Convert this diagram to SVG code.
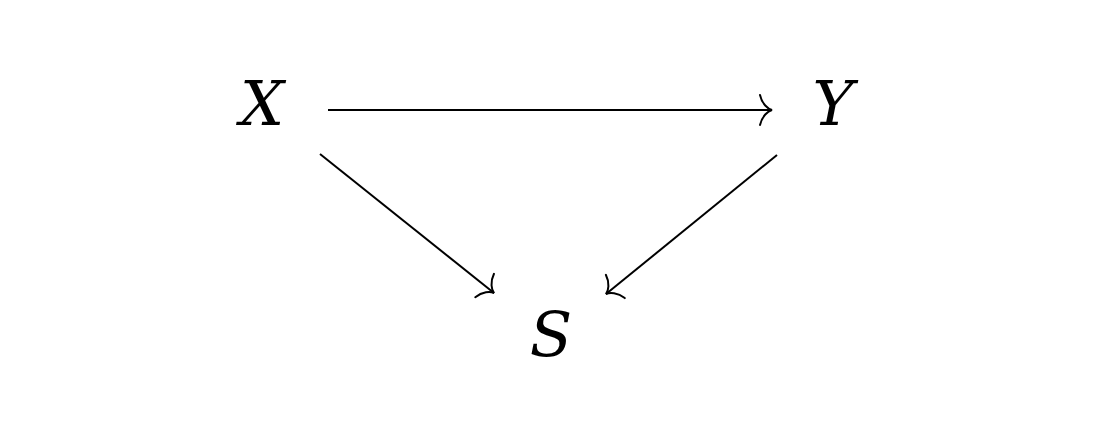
<svg xmlns="http://www.w3.org/2000/svg" width="1100" height="434" viewBox="0 0 1100 434">
<style>
.lbl{font-family:'DejaVu Serif',serif;font-style:italic;font-size:62px;fill:#000;text-anchor:middle}
.edge{stroke:#000;stroke-width:2;fill:none}
</style>
<defs>
<marker id="tip" markerUnits="userSpaceOnUse" viewBox="-16 -18 20 36" refX="0" refY="0" markerWidth="20" markerHeight="36" orient="auto">
<path d="M-12,-15 C-10,-6 -4,-1 0,0 C-4,1 -10,6 -12,15" fill="none" stroke="#000" stroke-width="2" stroke-linecap="round"/>
</marker>
</defs>
<rect width="1100" height="434" fill="#fff"/>
<g id="connectors">
<line class="edge" x1="328" y1="110" x2="772" y2="110" marker-end="url(#tip)"/>
<line class="edge" x1="320" y1="154" x2="494" y2="293" marker-end="url(#tip)"/>
<line class="edge" x1="777" y1="155" x2="606" y2="294" marker-end="url(#tip)"/>
</g>
<g id="node-X"><text class="lbl" x="262" y="125">X</text></g>
<g id="node-Y"><text class="lbl" x="833" y="125">Y</text></g>
<g id="node-S"><text class="lbl" x="551" y="356">S</text></g>
</svg>
